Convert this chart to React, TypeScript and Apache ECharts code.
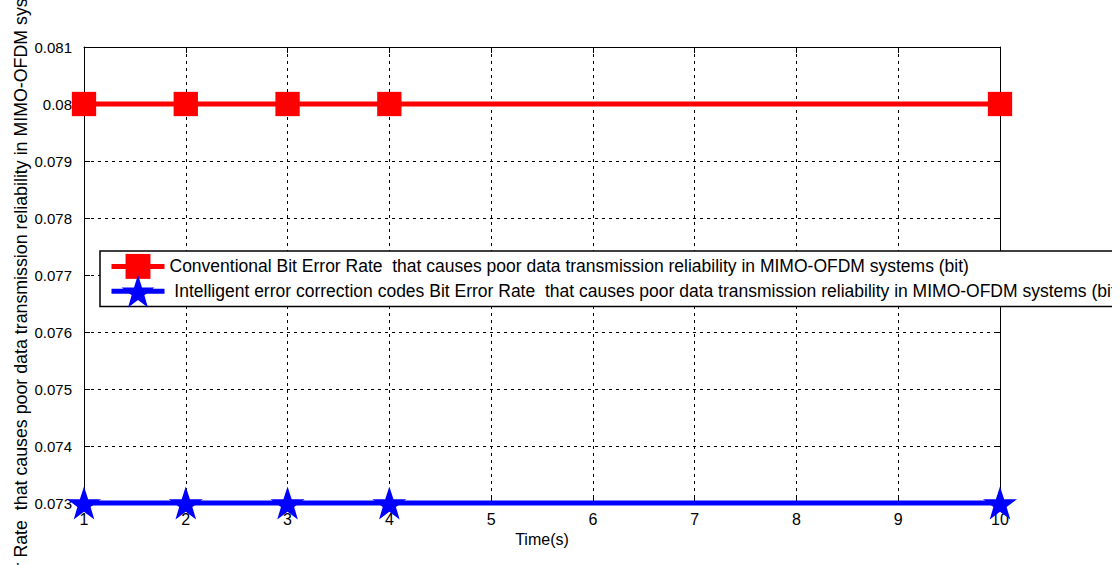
import React, { useEffect, useRef } from "react";
import * as echarts from "echarts";

const timePoints = [1, 2, 3, 4, 10];
const conventionalBER = [0.08, 0.08, 0.08, 0.08, 0.08];
const intelligentBER = [0.073, 0.073, 0.073, 0.073, 0.073];
const conventionalName =
  "Conventional Bit Error Rate  that causes poor data transmission reliability in MIMO-OFDM systems (bit)";
const intelligentName =
  " Intelligent error correction codes Bit Error Rate  that causes poor data transmission reliability in MIMO-OFDM systems (bit)";
const xAxisName = "Time(s)";
const yAxisName =
  "Bit Error Rate  that causes poor data transmission reliability in MIMO-OFDM systems (bit)";

const FONT = "'Liberation Sans', Arial, Helvetica, sans-serif";
const STAR =
  "path://M50,0 L61.8,35.1 L98.5,35.1 L68.8,56.7 L79.4,91.5 L50,70 L20.6,91.5 L31.2,56.7 L1.5,35.1 L38.2,35.1 Z";
// square occupying the central 76% of its symbol box
const SQUARE = "path://M0,0 M100,100 M12,12 L88,12 L88,88 L12,88 Z";

export default function App() {
  const ref = useRef<HTMLDivElement>(null);
  useEffect(() => {
    if (!ref.current) return;
    const chart = echarts.init(ref.current, null, { renderer: "svg" });
    const gridLine = {
      show: true,
      lineStyle: { color: "#000", width: 1, type: [3, 4] as any },
    };
    const axisLineStyle = { show: true, lineStyle: { color: "#000", width: 1 } };
    const tick = { show: true, inside: true, length: 6, lineStyle: { color: "#000" } };
    chart.setOption({
      animation: false,
      backgroundColor: "#fff",
      textStyle: { fontFamily: FONT },
      grid: { left: 84, right: 112, top: 47, bottom: 62, containLabel: false },
      xAxis: [
        {
          type: "value",
          min: 1,
          max: 10,
          interval: 1,
          name: xAxisName,
          nameLocation: "middle",
          nameGap: 27,
          nameTextStyle: { color: "#000", fontSize: 16, fontFamily: FONT },
          axisLine: axisLineStyle,
          axisTick: tick,
          axisLabel: { color: "#000", fontSize: 16, margin: 8, fontFamily: FONT },
          splitLine: gridLine,
        },
        {
          type: "value",
          position: "top",
          min: 1,
          max: 10,
          interval: 1,
          axisLine: axisLineStyle,
          axisTick: tick,
          axisLabel: { show: false },
          splitLine: { show: false },
        },
      ],
      yAxis: [
        {
          type: "value",
          min: 0.073,
          max: 0.081,
          interval: 0.001,
          axisLine: axisLineStyle,
          axisTick: tick,
          axisLabel: { color: "#000", fontSize: 15, margin: 12, fontFamily: FONT },
          splitLine: gridLine,
        },
        {
          type: "value",
          position: "right",
          min: 0.073,
          max: 0.081,
          interval: 0.001,
          axisLine: axisLineStyle,
          axisTick: tick,
          axisLabel: { show: false },
          splitLine: { show: false },
        },
      ],
      legend: {
        left: 100,
        top: 251,
        orient: "vertical",
        backgroundColor: "#fff",
        borderColor: "#000",
        borderWidth: 1.5,
        borderRadius: 0,
        padding: [-1, 12, -1, 9],
        itemGap: -8,
        itemWidth: 53,
        itemHeight: 41,
        lineStyle: { width: 5 },
        textStyle: { color: "#000", fontSize: 17.5, fontFamily: FONT },
        data: [conventionalName, intelligentName],
      },
      graphic: [
        {
          type: "text",
          x: 21,
          y: 276,
          rotation: Math.PI / 2,
          style: {
            text: yAxisName,
            fill: "#000",
            fontSize: 17.8,
            fontFamily: FONT,
            align: "center",
            verticalAlign: "middle",
          },
        },
      ],
      series: [
        {
          name: conventionalName,
          type: "line",
          data: timePoints.map((t, i) => [t, conventionalBER[i]]),
          symbol: SQUARE,
          symbolSize: 32,
          clip: false,
          z: 5,
          lineStyle: { color: "#ff0000", width: 5 },
          itemStyle: { color: "#ff0000" },
        },
        {
          name: intelligentName,
          type: "line",
          data: timePoints.map((t, i) => [t, intelligentBER[i]]),
          symbol: STAR,
          symbolSize: [34, 33],
          clip: false,
          z: 5,
          lineStyle: { color: "#0000ff", width: 5 },
          itemStyle: { color: "#0000ff" },
        },
      ],
    });
    return () => chart.dispose();
  }, []);
  return (
    <div
      ref={ref}
      style={{ position: "fixed", left: 0, top: 0, width: 1112, height: 565 }}
    />
  );
}
